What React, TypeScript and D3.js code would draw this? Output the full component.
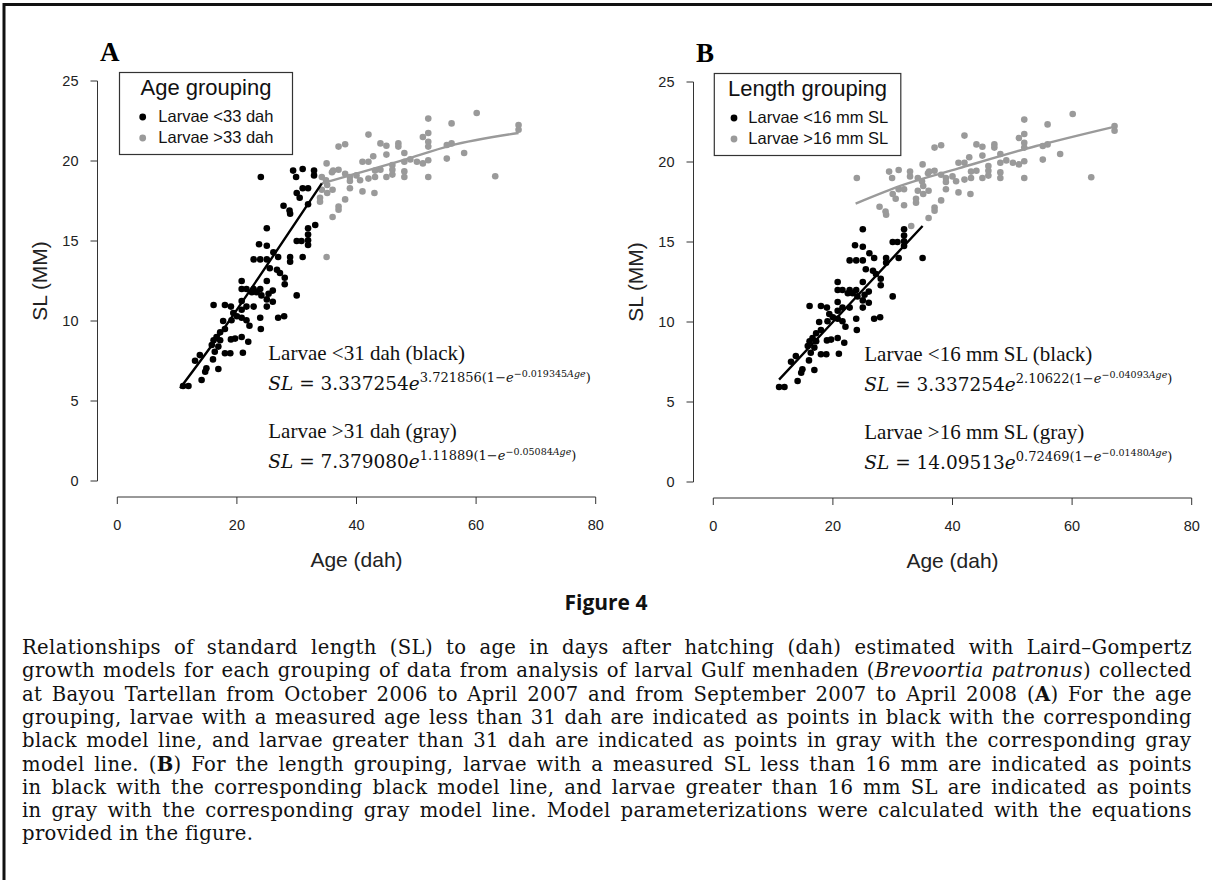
import React, { useRef, useLayoutEffect } from 'react';
import * as d3 from 'd3';

// each fish: age (dah) and standard length (mm)
const ages = [
  24.0, 29.4, 31.0, 32.9, 32.9, 29.9, 30.0, 31.0, 31.9, 30.5, 27.8, 28.8, 28.9, 31.9, 33.1, 31.9,
  31.9, 31.9, 31.9, 30.0, 30.8, 31.0, 28.9, 28.9, 25.0, 23.7, 25.0, 22.8, 23.9, 25.0, 26.1, 26.9,
  25.5, 26.7, 27.2, 28.0, 28.0, 20.8, 20.8, 21.6, 22.8, 23.9, 25.0, 22.5, 23.3, 24.1, 25.3, 26.0,
  25.0, 26.0, 30.0, 20.8, 21.6, 20.8, 22.8, 25.0, 19.4, 20.0, 20.8, 21.6, 19.1, 22.1, 23.9, 24.0,
  26.9, 27.9, 16.1, 18.0, 19.0, 17.7, 18.0, 16.6, 16.1, 17.2, 19.0, 19.7, 20.8, 15.8, 21.9, 16.9,
  17.2, 16.3, 18.0, 18.9, 21.0, 13.8, 13.0, 14.9, 14.7, 16.9, 14.1, 11.0, 11.9, 16.0,
  35.0, 34.2, 34.9, 35.9, 37.0, 38.1, 38.9, 38.9, 40.0, 35.1, 34.2, 35.1, 36.0, 33.9, 33.9, 38.1,
  37.0, 37.0, 36.0, 35.0, 37.0, 38.1, 38.9, 41.0, 42.0, 41.0, 42.0, 42.0, 42.8, 43.1, 43.1, 43.0,
  44.0, 44.0, 45.0, 45.0, 45.0, 46.0, 46.0, 46.0, 47.0, 47.0, 48.0, 48.0, 48.0, 48.0, 49.0, 50.1,
  51.1, 51.1, 52.0, 52.0, 52.0, 52.0, 52.0, 52.0, 55.1, 55.1, 55.9, 55.9, 58.0, 60.1, 63.2, 67.1,
  67.1, 36.1, 40.6,
];
const lengths = [
  19.0, 19.4, 19.5, 19.4, 19.1, 19.0, 18.0, 18.3, 18.3, 17.7, 17.2, 16.9, 16.7, 17.3, 16.0, 15.8,
  15.4, 15.05, 14.75, 15.0, 15.0, 14.0, 14.0, 13.7, 15.8, 14.8, 14.7, 13.85, 13.85, 13.85, 14.3, 14.0,
  13.3, 13.2, 13.0, 12.7, 12.3, 12.5, 12.0, 12.0, 12.0, 12.0, 12.5, 11.8, 11.8, 11.6, 11.7, 11.9,
  11.35, 11.2, 11.6, 11.25, 10.9, 10.7, 10.9, 10.9, 10.5, 10.3, 10.2, 10.05, 10.05, 9.7, 10.2, 9.5,
  10.2, 10.3, 11.0, 11.0, 10.9, 10.0, 9.5, 9.0, 8.8, 8.8, 8.85, 8.9, 9.0, 8.5, 8.7, 8.4,
  9.3, 8.08, 7.98, 7.98, 8.02, 7.87, 7.52, 7.04, 6.83, 7.0, 6.31, 5.94, 5.94, 7.6,
  19.85, 19.0, 18.8, 19.3, 19.45, 19.2, 19.0, 18.75, 19.1, 18.5, 18.2, 18.0, 18.2, 17.7, 17.45, 17.6,
  17.15, 16.95, 16.5, 14.0, 20.9, 21.05, 18.3, 18.1, 21.65, 19.95, 19.95, 18.9, 20.3, 19.4, 19.0, 18.0,
  21.1, 19.45, 20.95, 20.4, 19.0, 19.75, 19.45, 19.15, 21.1, 20.9, 20.5, 19.95, 19.35, 19.0, 20.1, 19.95,
  21.5, 19.85, 22.65, 21.75, 21.2, 20.9, 20.05, 19.0, 21.0, 20.15, 22.35, 21.1, 20.5, 23.0, 19.05, 22.25,
  21.95, 19.4, 18.8,
];

const ageCut = 33.5; // panel A grouping
const lengthCut = 15.95; // panel B grouping

// model lines as drawn in the figure
const lineA_blackAge = [10.5, 17.2, 23.8, 34.2];
const lineA_blackSL = [5.8, 9.2, 12.8, 18.6];
const lineA_grayAge = [34.2, 38.9, 47.8, 55.6, 67.1];
const lineA_graySL = [18.6, 19.1, 20.05, 20.95, 21.75];
const lineB_blackAge = [11.0, 25.5, 35.0];
const lineB_blackSL = [6.4, 12.2, 16.0];
const lineB_grayAge = [23.8, 32.0, 41.0, 54.0, 67.0];
const lineB_graySL = [17.4, 18.6, 19.6, 21.0, 22.2];

const xTicks = [0, 20, 40, 60, 80];
const yTicks = [0, 5, 10, 15, 20, 25];

const captionLines = [
  [['Relationships of standard length (SL) to age in days after hatching (dah) estimated with Laird–Gompertz', '']],
  [['growth models for each grouping of data from analysis of larval Gulf menhaden (', ''], ['Brevoortia patronus', 'i'], [') collected', '']],
  [['at Bayou Tartellan from October 2006 to April 2007 and from September 2007 to April 2008 (', ''], ['A', 'b'], [') For the age', '']],
  [['grouping, larvae with a measured age less than 31 dah are indicated as points in black with the corresponding', '']],
  [['black model line, and larvae greater than 31 dah are indicated as points in gray with the corresponding gray', '']],
  [['model line. (', ''], ['B', 'b'], [') For the length grouping, larvae with a measured SL less than 16 mm are indicated as points', '']],
  [['in black with the corresponding black model line, and larvae greater than 16 mm SL are indicated as points', '']],
  [['in gray with the corresponding gray model line. Model parameterizations were calculated with the equations', '']],
  [['provided in the figure.', '']],
];

const BLACK = '#000';
const GRAY = '#9a9a9a';
const AXIS = '#333';
const SANS = '"Liberation Sans", Arial, sans-serif';
const SERIF = '"Liberation Serif", "Times New Roman", serif';
const MATH = '"DejaVu Serif", serif';
const CAPTION_W = 1170;

const x = d3.scaleLinear().domain([0, 80]).range([117.3, 595.7]);
const y = d3.scaleLinear().domain([0, 25]).range([481, 81]);
const line = d3.line<[number, number]>().x(d => x(d[0])).y(d => y(d[1])).curve(d3.curveMonotoneX);

const zip = (a: number[], b: number[]) => a.map((v, i) => [v, b[i]] as [number, number]);

function Equation({ tx, ty, a, b, c }) {
  return (
    <text x={tx} y={ty} fontFamily={MATH} fontSize={18.5} fill="#111">
      <tspan fontStyle="italic">SL</tspan>
      <tspan> = {a}</tspan>
      <tspan fontStyle="italic">e</tspan>
      <tspan fontSize={13} dy={-8}>{b}(1−</tspan>
      <tspan fontSize={13} fontStyle="italic">e</tspan>
      <tspan fontSize={9.5} dy={-5}>−{c}</tspan>
      <tspan fontSize={9.5} fontStyle="italic">Age</tspan>
      <tspan fontSize={13} dy={5}>)</tspan>
    </text>
  );
}

function Panel({ dx, dy, letter, legend, isBlack, lines, labels, eqs }) {
  const pts = zip(ages, lengths);
  const axisY = 497;
  const axisX = 97.5;
  return (
    <g transform={`translate(${dx},${dy})`}>
      <text x={100} y={61} fontFamily={SERIF} fontWeight="bold" fontSize={27}>{letter}</text>

      {/* y axis */}
      <line x1={axisX} x2={axisX} y1={y(0)} y2={y(25)} stroke={AXIS} />
      {yTicks.map(t => (
        <g key={t}>
          <line x1={axisX - 7} x2={axisX} y1={y(t)} y2={y(t)} stroke={AXIS} />
          <text x={axisX - 19} y={y(t)} dy="0.35em" textAnchor="end" fontFamily={SANS} fontSize={14.5} fill="#222">{t}</text>
        </g>
      ))}
      <text transform={`translate(47,${(y(0) + y(25)) / 2}) rotate(-90)`} textAnchor="middle" fontFamily={SANS} fontSize={21} fill="#222">SL (MM)</text>

      {/* x axis */}
      <line x1={x(0)} x2={x(80)} y1={axisY} y2={axisY} stroke={AXIS} />
      {xTicks.map(t => (
        <g key={t}>
          <line x1={x(t)} x2={x(t)} y1={axisY} y2={axisY + 7} stroke={AXIS} />
          <text x={x(t)} y={axisY + 33} textAnchor="middle" fontFamily={SANS} fontSize={14.5} fill="#222">{t}</text>
        </g>
      ))}
      <text x={(x(0) + x(80)) / 2} y={566.5} textAnchor="middle" fontFamily={SANS} fontSize={21} fill="#222">Age (dah)</text>

      {/* points */}
      {pts.map((p, i) => (
        <circle key={i} cx={x(p[0])} cy={y(p[1])} r={3.3} fill={isBlack(p) ? BLACK : GRAY} />
      ))}

      {/* model lines */}
      <path d={line(lines.gray)} fill="none" stroke={GRAY} strokeWidth={2.4} />
      <path d={line(lines.black)} fill="none" stroke={BLACK} strokeWidth={2.4} />

      {/* legend */}
      <rect x={legend.x} y={72.5} width={legend.w} height={82} fill="#fff" stroke={AXIS} strokeWidth={1.2} />
      <text x={legend.x + legend.w / 2} y={95} textAnchor="middle" fontFamily={SANS} fontSize={22} fill="#111">{legend.title}</text>
      <circle cx={legend.x + legend.dot} cy={117} r={3.4} fill={BLACK} />
      <circle cx={legend.x + legend.dot} cy={138} r={3.4} fill={GRAY} />
      <text x={legend.x + legend.txt} y={122} fontFamily={SANS} fontSize={16.5} fill="#111">{legend.items[0]}</text>
      <text x={legend.x + legend.txt} y={143} fontFamily={SANS} fontSize={16.5} fill="#111">{legend.items[1]}</text>

      {/* model equations */}
      <text x={268.3} y={360} fontFamily={SERIF} fontSize={21} fill="#111">{labels[0]}</text>
      <Equation tx={268.3} ty={390} a={eqs[0][0]} b={eqs[0][1]} c={eqs[0][2]} />
      <text x={268.3} y={438} fontFamily={SERIF} fontSize={21} fill="#111">{labels[1]}</text>
      <Equation tx={268.3} ty={468} a={eqs[1][0]} b={eqs[1][1]} c={eqs[1][2]} />
    </g>
  );
}

function Caption() {
  const refs = useRef<(SVGTextElement | null)[]>([]);

  // justify every line but the last: measure the rendered box, then spread the word gaps
  useLayoutEffect(() => {
    refs.current.forEach((el, i) => {
      if (!el || i === captionLines.length - 1) return;
      const spaces = captionLines[i].map(p => p[0]).join('').split(' ').length - 1;
      let ws = 0;
      for (let k = 0; k < 3; k++) {
        el.setAttribute('word-spacing', String(ws));
        const w = el.getBBox().width;
        ws += (CAPTION_W - w) / spaces;
      }
      el.setAttribute('word-spacing', String(ws));
    });
  }, []);

  return (
    <g>
      {captionLines.map((parts, i) => (
        <text
          key={i}
          ref={el => { refs.current[i] = el; }}
          x={22}
          y={654 + i * 23.3}
          fontFamily={MATH}
          fontSize={19.6}
          letterSpacing={0.35}
          fill="#111"
        >
          {parts.map(([s, f], j) => (
            <tspan key={j} fontStyle={f === 'i' ? 'italic' : undefined} fontWeight={f === 'b' ? 'bold' : undefined}>{s}</tspan>
          ))}
        </text>
      ))}
    </g>
  );
}

export default function App() {
  return (
    <svg width={1212} height={880} style={{ position: 'absolute', left: 0, top: 0, background: '#fff' }}>
      <rect width={1212} height={880} fill="#fff" />
      {/* frame */}
      <line x1={4} x2={1212} y1={4.5} y2={4.5} stroke="#111" strokeWidth={3} />
      <line x1={4} x2={4} y1={3} y2={880} stroke="#111" strokeWidth={3} />

      <Panel
        dx={0}
        dy={0}
        letter="A"
        legend={{ x: 119.5, w: 173, dot: 23.2, txt: 38.8, title: 'Age grouping', items: ['Larvae <33 dah', 'Larvae >33 dah'] }}
        isBlack={p => p[0] < ageCut}
        lines={{ black: zip(lineA_blackAge, lineA_blackSL), gray: zip(lineA_grayAge, lineA_graySL) }}
        labels={['Larvae <31 dah (black)', 'Larvae >31 dah (gray)']}
        eqs={[['3.337254', '3.721856', '0.019345'], ['7.379080', '1.11889', '0.05084']]}
      />
      <Panel
        dx={596}
        dy={1}
        letter="B"
        legend={{ x: 118.3, w: 186.5, dot: 19.7, txt: 34, title: 'Length grouping', items: ['Larvae <16 mm SL', 'Larvae >16 mm SL'] }}
        isBlack={p => p[1] < lengthCut}
        lines={{ black: zip(lineB_blackAge, lineB_blackSL), gray: zip(lineB_grayAge, lineB_graySL) }}
        labels={['Larvae <16 mm SL (black)', 'Larvae >16 mm SL (gray)']}
        eqs={[['3.337254', '2.10622', '0.04093'], ['14.09513', '0.72469', '0.01480']]}
      />

      <text x={606} y={610} textAnchor="middle" fontFamily='"Open Sans", sans-serif' fontWeight="bold" fontSize={21} fill="#111">Figure 4</text>

      <Caption />
    </svg>
  );
}
